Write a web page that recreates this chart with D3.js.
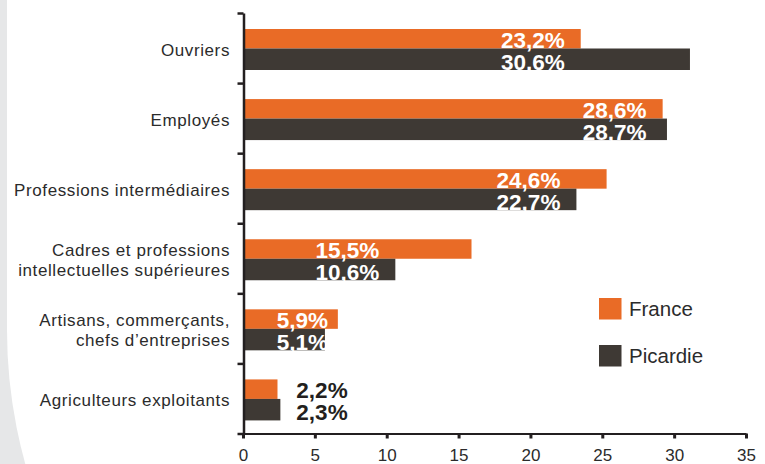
<!DOCTYPE html>
<html>
<head>
<meta charset="utf-8">
<script src="https://d3js.org/d3.v7.min.js"></script>
<style>
  body { margin: 0; background: #ffffff; }
  text { font-family: "Liberation Sans", Arial, Helvetica, sans-serif; }
</style>
</head>
<body>
<div id="chart"></div>
<script>
// categories, top to bottom (two-line labels split with "|")
var categories = [
  "Ouvriers",
  "Employés",
  "Professions intermédiaires",
  "Cadres et professions|intellectuelles supérieures",
  "Artisans, commerçants,|chefs d’entreprises",
  "Agriculteurs exploitants"
];

// bar lengths
var franceValues = [23.5, 29.2, 25.3, 15.9, 6.6, 2.4];
var picardieValues = [31.1, 29.5, 23.2, 10.6, 5.7, 2.6];

// printed value labels
var franceLabels = ["23,2%", "28,6%", "24,6%", "15,5%", "5,9%", "2,2%"];
var picardieLabels = ["30,6%", "28,7%", "22,7%", "10,6%", "5,1%", "2,3%"];

var xTicks = [0, 5, 10, 15, 20, 25, 30, 35];
var seriesNames = ["France", "Picardie"];

var orange = "#e96b26";
var dark = "#3e3934";

var svgWidth = 765;
var svgHeight = 464;

var svg = d3.select("#chart")
  .append("svg")
  .attr("width", svgWidth)
  .attr("height", svgHeight);

// grey panel on the left with the big rounded white corner
svg.append("rect")
  .attr("width", svgWidth)
  .attr("height", svgHeight)
  .attr("fill", "#e6e7e8");

svg.append("path")
  .attr("d", "M7,0 L7,330 A500,500 0 0 0 507,830 L800,830 L800,0 Z")
  .attr("fill", "#ffffff");

// scales
var xScale = d3.scaleLinear()
  .domain([0, 35])
  .range([243, 746]);

var yBand = d3.scaleBand()
  .domain(categories)
  .range([13, 433.5]);

var yEdges = d3.scaleLinear()
  .domain([0, categories.length])
  .range([13, 433.5]);

var bw = yBand.bandwidth();

// bars
var groups = svg.append("g")
  .selectAll("g")
  .data(categories)
  .enter()
  .append("g")
  .attr("transform", d => `translate(0, ${yBand(d)})`);

groups.append("rect")
  .attr("x", xScale(0))
  .attr("y", 16)
  .attr("height", 19.5)
  .attr("width", (d, i) => xScale(franceValues[i]) - xScale(0))
  .attr("fill", orange);

groups.append("rect")
  .attr("x", xScale(0))
  .attr("y", 35.5)
  .attr("height", 21.5)
  .attr("width", (d, i) => xScale(picardieValues[i]) - xScale(0))
  .attr("fill", dark);

// value labels: inside (white) when the bars are long enough, outside otherwise
function labelPos(i) {
  var minEnd = xScale(Math.min(franceValues[i], picardieValues[i]));
  var maxEnd = xScale(Math.max(franceValues[i], picardieValues[i]));
  if (minEnd - xScale(0) < 50) {
    return { x: maxEnd + 16, anchor: "start", color: "#231f20" };
  }
  return { x: Math.max(minEnd - 16, xScale(0) + 85), anchor: "end", color: "#ffffff" };
}

groups.append("text")
  .attr("x", (d, i) => labelPos(i).x)
  .attr("y", 35)
  .attr("text-anchor", (d, i) => labelPos(i).anchor)
  .attr("fill", (d, i) => labelPos(i).color)
  .style("font-size", "22.5px")
  .style("font-weight", "bold")
  .text((d, i) => franceLabels[i]);

groups.append("text")
  .attr("x", (d, i) => labelPos(i).x)
  .attr("y", 57)
  .attr("text-anchor", (d, i) => labelPos(i).anchor)
  .attr("fill", (d, i) => labelPos(i).color)
  .style("font-size", "22.5px")
  .style("font-weight", "bold")
  .text((d, i) => picardieLabels[i]);

// category labels
groups.each(function(d) {
  var lines = d.split("|");
  var g = d3.select(this);
  var lineH = 19.5;
  var y0 = bw / 2 + 6 - (lines.length - 1) * lineH / 2 + 1.5;
  lines.forEach(function(line, k) {
    g.append("text")
      .attr("x", 230)
      .attr("y", y0 + k * lineH)
      .attr("text-anchor", "end")
      .attr("fill", "#2b2b2b")
      .style("font-size", "17px")
      .style("letter-spacing", "0.6px")
      .text(line);
  });
});

// y axis (ticks between categories)
var yAxis = svg.append("g")
  .attr("transform", `translate(${xScale(0) + 0.5}, 0)`)
  .call(d3.axisLeft(yEdges)
    .tickValues(d3.range(categories.length + 1))
    .tickFormat("")
    .tickSize(6)
    .tickSizeOuter(0));

yAxis.select(".domain").attr("stroke", "#231f20").attr("stroke-width", 2.5);
yAxis.selectAll(".tick line").attr("stroke", "#231f20").attr("stroke-width", 2.5);

// x axis
var xAxis = svg.append("g")
  .attr("transform", `translate(0, 433.5)`)
  .call(d3.axisBottom(xScale)
    .tickValues(xTicks)
    .tickSize(5)
    .tickSizeOuter(0)
    .tickPadding(10.5));

xAxis.select(".domain").attr("stroke", "#231f20").attr("stroke-width", 2);
xAxis.selectAll(".tick line").attr("stroke", "#231f20").attr("stroke-width", 3);
xAxis.selectAll(".tick text")
  .attr("fill", "#2b2b2b")
  .style("font-size", "17px")
  .style("font-family", "'Liberation Sans', Arial, sans-serif");

// legend
var legend = svg.append("g")
  .selectAll("g")
  .data(seriesNames)
  .enter()
  .append("g")
  .attr("transform", (d, i) => `translate(599, ${298 + i * 47})`);

legend.append("rect")
  .attr("width", 22.5)
  .attr("height", 21.5)
  .attr("fill", (d, i) => i === 0 ? orange : dark);

legend.append("text")
  .attr("x", 30)
  .attr("y", 17.5)
  .attr("fill", "#2b2b2b")
  .style("font-size", "20.5px")
  .text(d => d);
</script>
</body>
</html>
